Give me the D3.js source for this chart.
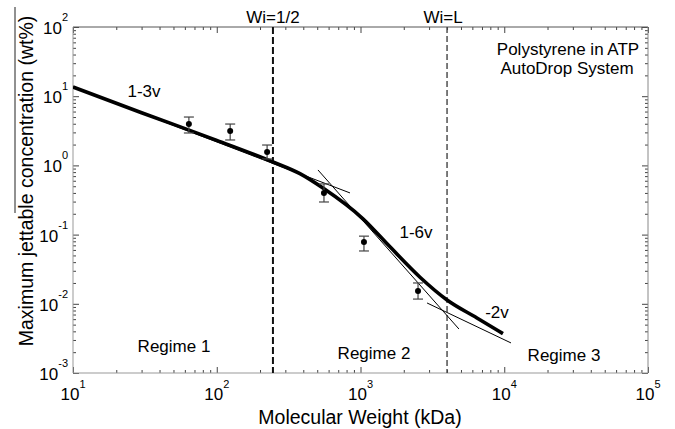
<!DOCTYPE html>
<html>
<head>
<meta charset="utf-8">
<script src="https://cdn.jsdelivr.net/npm/d3@7"></script>
<style>
  html, body { margin: 0; padding: 0; background: #fff; }
  svg { display: block; }
  text { font-family: "Liberation Sans", Arial, Helvetica, sans-serif; fill: #000; }
</style>
</head>
<body>
<svg id="chart" width="675" height="429"></svg>
<script>
// Measured jetting limits (molecular weight in kDa, concentration in wt%)
const mw = [64, 124, 224, 557, 1057, 2513];
const conc = [3.96, 3.14, 1.56, 0.40, 0.078, 0.0153];
const concLow = [2.94, 2.33, 1.24, 0.296, 0.058, 0.0117];
const concHigh = [5.0, 3.96, 1.97, 0.54, 0.095, 0.020];

// Model curve across the three regimes
const modelMw = [10, 30, 100, 246, 379, 548, 1040, 1603, 2594, 4000, 6457, 9795];
const modelConc = [13.6, 5.77, 2.3, 1.12, 0.759, 0.470, 0.169, 0.0665, 0.0242, 0.01135, 0.00624, 0.00371];

// Power-law asymptotes: 1-3v, 1-6v, -2v
const asymMw = [[10, 845], [506, 4840], [2904, 11140]];
const asymConc = [[13.6, 0.40], [0.859, 0.00432], [0.01028, 0.00272]];

// Regime boundaries
const boundaryMw = [246, 4000];
const boundaryLabels = ["Wi=1/2", "Wi=L"];

// Axis ticks (decades)
const xDecades = [1, 2, 3, 4, 5];
const yDecades = [-3, -2, -1, 0, 1, 2];

const svg = d3.select("#chart");
const pL = 73, pR = 648, pT = 27, pB = 373;

const x = d3.scaleLog().domain([10, 1e5]).range([pL, pR]);
const y = d3.scaleLog().domain([1e-3, 1e2]).range([pB, pT]);

// minor ticks 2..9 within each decade
function minorTicks(dec) {
  const out = [];
  for (let i = 0; i < dec.length - 1; i++)
    for (let m = 2; m <= 9; m++) out.push(m * Math.pow(10, dec[i]));
  return out;
}
const xMajor = xDecades.map(d => Math.pow(10, d));
const yMajor = yDecades.map(d => Math.pow(10, d));
const xMinor = minorTicks(xDecades);
const yMinor = minorTicks(yDecades);

const axisG = svg.append("g");
function addAxis(axis, transform) {
  const g = axisG.append("g").attr("transform", transform).call(axis);
  g.select(".domain").remove();
  g.selectAll("line").attr("stroke", "#444").attr("stroke-width", 1);
  g.selectAll("text").remove();
}
addAxis(d3.axisBottom(x).tickValues(xMajor).tickSizeInner(-6).tickSizeOuter(0), `translate(0,${pB})`);
addAxis(d3.axisBottom(x).tickValues(xMinor).tickSizeInner(-3).tickSizeOuter(0), `translate(0,${pB})`);
addAxis(d3.axisTop(x).tickValues(xMajor).tickSizeInner(-6).tickSizeOuter(0), `translate(0,${pT})`);
addAxis(d3.axisTop(x).tickValues(xMinor).tickSizeInner(-3).tickSizeOuter(0), `translate(0,${pT})`);
addAxis(d3.axisLeft(y).tickValues(yMajor).tickSizeInner(-6).tickSizeOuter(0), `translate(${pL},0)`);
addAxis(d3.axisLeft(y).tickValues(yMinor).tickSizeInner(-3).tickSizeOuter(0), `translate(${pL},0)`);
addAxis(d3.axisRight(y).tickValues(yMajor).tickSizeInner(-6).tickSizeOuter(0), `translate(${pR},0)`);
addAxis(d3.axisRight(y).tickValues(yMinor).tickSizeInner(-3).tickSizeOuter(0), `translate(${pR},0)`);

// box
svg.append("line").attr("x1", pL).attr("x2", pR).attr("y1", pT).attr("y2", pT).attr("stroke", "#555");
svg.append("line").attr("x1", pL).attr("x2", pR).attr("y1", pB).attr("y2", pB).attr("stroke", "#999");
svg.append("line").attr("x1", pL).attr("x2", pL).attr("y1", pT).attr("y2", pB).attr("stroke", "#999");
svg.append("line").attr("x1", pR).attr("x2", pR).attr("y1", pT).attr("y2", pB).attr("stroke", "#888");

// tick labels with exponents
svg.append("g").selectAll("text").data(xDecades).join("text")
  .attr("x", d => x(Math.pow(10, d)))
  .attr("y", 400)
  .attr("text-anchor", "middle")
  .style("font-size", "17px")
  .each(function (d) {
    const t = d3.select(this);
    t.append("tspan").text("10");
    t.append("tspan").attr("dy", -12).style("font-size", "11px").text(d);
  });
svg.append("g").selectAll("text").data(yDecades).join("text")
  .attr("x", pL - 5)
  .attr("y", d => y(Math.pow(10, d)) + 7)
  .attr("text-anchor", "end")
  .style("font-size", "17px")
  .each(function (d) {
    const t = d3.select(this);
    t.append("tspan").text("10");
    t.append("tspan").attr("dy", -13).style("font-size", "11px").text(d);
  });

// axis titles
svg.append("text").attr("x", 360).attr("y", 424).attr("text-anchor", "middle")
  .style("font-size", "19.5px").text("Molecular Weight (kDa)");
svg.append("text").attr("transform", "translate(33,181) rotate(-90)").attr("text-anchor", "middle")
  .style("font-size", "19.5px").text("Maximum jettable concentration (wt%)");
svg.append("line").attr("x1", 15).attr("x2", 15).attr("y1", 7).attr("y2", 213)
  .attr("stroke", "#222").attr("stroke-width", 1);

svg.append("clipPath").attr("id", "clip").append("rect")
  .attr("x", pL).attr("y", pT).attr("width", pR - pL).attr("height", pB - pT);
const plot = svg.append("g").attr("clip-path", "url(#clip)");

// regime boundaries
plot.selectAll("line.boundary").data(boundaryMw).join("line")
  .attr("class", "boundary")
  .attr("x1", d => x(d)).attr("x2", d => x(d))
  .attr("y1", pT).attr("y2", pB)
  .attr("stroke", (d, i) => i === 0 ? "#111" : "#444")
  .attr("stroke-width", (d, i) => i === 0 ? 2 : 1.4)
  .attr("stroke-dasharray", (d, i) => i === 0 ? "7,3" : "6,3");
svg.selectAll("text.boundary").data(boundaryMw).join("text")
  .attr("class", "boundary")
  .attr("x", (d, i) => x(d) + (i === 0 ? 0 : -4))
  .attr("y", 23)
  .attr("text-anchor", "middle")
  .style("font-size", "17px")
  .text((d, i) => boundaryLabels[i]);

// asymptotes
const line = d3.line().x(d => x(d[0])).y(d => y(d[1]));
asymMw.forEach((m, i) => {
  plot.append("path")
    .datum(m.map((v, j) => [v, asymConc[i][j]]))
    .attr("d", line)
    .attr("fill", "none").attr("stroke", "#000").attr("stroke-width", 1);
});

// model curve
const curve = d3.line().x(d => x(d[0])).y(d => y(d[1])).curve(d3.curveMonotoneX);
plot.append("path")
  .datum(modelMw.map((v, i) => [v, modelConc[i]]))
  .attr("d", curve)
  .attr("fill", "none").attr("stroke", "#000").attr("stroke-width", 3.6)
  .attr("stroke-linejoin", "round");

// error bars and points
const pts = mw.map((v, i) => ({ m: v, c: conc[i], lo: concLow[i], hi: concHigh[i] }));
const eb = plot.append("g").attr("stroke", "#444").attr("stroke-width", 1.2);
eb.selectAll("line.v").data(pts).join("line").attr("class", "v")
  .attr("x1", d => x(d.m)).attr("x2", d => x(d.m)).attr("y1", d => y(d.lo)).attr("y2", d => y(d.hi));
eb.selectAll("line.lo").data(pts).join("line").attr("class", "lo")
  .attr("x1", d => x(d.m) - 5).attr("x2", d => x(d.m) + 5).attr("y1", d => y(d.lo)).attr("y2", d => y(d.lo));
eb.selectAll("line.hi").data(pts).join("line").attr("class", "hi")
  .attr("x1", d => x(d.m) - 5).attr("x2", d => x(d.m) + 5).attr("y1", d => y(d.hi)).attr("y2", d => y(d.hi));
plot.selectAll("circle").data(pts).join("circle")
  .attr("cx", d => x(d.m)).attr("cy", d => y(d.c)).attr("r", 3).attr("fill", "#000");

// annotations
const notes = [
  { t: "1-3v", x: 144, y: 97 },
  { t: "1-6v", x: 416, y: 238 },
  { t: "-2v", x: 497, y: 318 },
  { t: "Regime 1", x: 174, y: 352 },
  { t: "Regime 2", x: 374, y: 359 },
  { t: "Regime 3", x: 564, y: 361 },
  { t: "Polystyrene in ATP", x: 568, y: 55 },
  { t: "AutoDrop System", x: 567, y: 74 }
];
svg.selectAll("text.note").data(notes).join("text").attr("class", "note")
  .attr("x", d => d.x).attr("y", d => d.y).attr("text-anchor", "middle")
  .style("font-size", "17px").text(d => d.t);
</script>
</body>
</html>
